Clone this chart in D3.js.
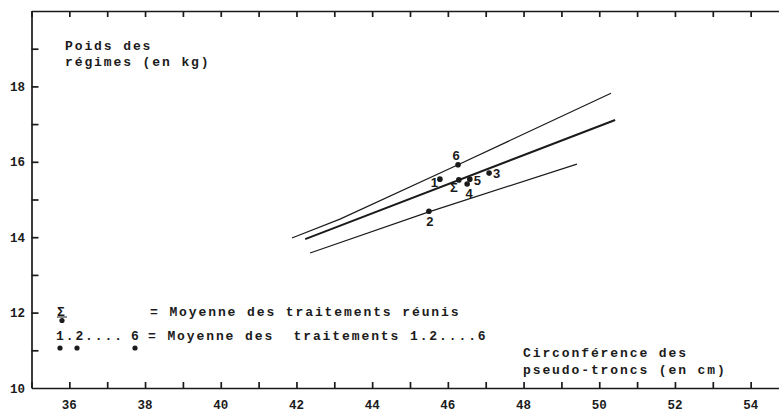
<!DOCTYPE html>
<html lang="fr">
<head>
    <meta charset="UTF-8">
    <title>Poids des régimes / circonférence des pseudo-troncs</title>
    <script src="https://d3js.org/d3.v7.min.js"></script>
    <style>
        html, body { margin: 0; padding: 0; background: #fff; }
        svg { display: block; }
        text { font-family: "Liberation Mono", "DejaVu Sans Mono", monospace; fill: #1b1b1b; }
        .typo { font-size: 13px; font-weight: bold; letter-spacing: 1.9px; white-space: pre; }
        .tick-label { font-size: 12.5px; font-weight: bold; }
        .pt-label { font-family: "Liberation Sans", Arial, sans-serif; font-size: 13px; font-weight: bold; }
    </style>
</head>
<body>
<div id="chart"></div>
<script>
    // Graduations
    const xTickLabels = [36, 38, 40, 42, 44, 46, 48, 50, 52, 54];
    const xMinorTicks = [35, 37, 39, 41, 43, 45, 47, 49, 51, 53];
    const yTickLabels = [10, 12, 14, 16, 18];
    const yMinorTicks = [11, 13, 15, 17, 19];

    // Moyennes par traitement (circonférence en cm, poids en kg)
    const treatments = ["1", "2", "3", "4", "5", "6", "Σ"];
    const circumference = [45.79, 45.50, 47.09, 46.51, 46.58, 46.27, 46.29];
    const weight = [15.54, 14.69, 15.70, 15.41, 15.54, 15.92, 15.52];

    // Droite de régression et limites
    const upperX = [41.88, 43.15, 46.27, 50.31];
    const upperY = [13.98, 14.48, 15.92, 17.82];
    const regX = [42.23, 50.42];
    const regY = [13.95, 17.11];
    const lowerX = [42.36, 45.50, 49.41];
    const lowerY = [13.58, 14.67, 15.94];

    // Position des étiquettes autour des points (px)
    const labelPos = {
        "1": { dx: -2, dy: 8, anchor: "end" },
        "2": { dx: 1, dy: 15, anchor: "middle" },
        "3": { dx: 4, dy: 5, anchor: "start" },
        "4": { dx: 2, dy: 14, anchor: "middle" },
        "5": { dx: 4, dy: 6, anchor: "start" },
        "6": { dx: -2, dy: -5, anchor: "middle" },
        "Σ": { dx: -5, dy: 12, anchor: "middle" }
    };

    const width = 779, height = 414;
    const x = d3.scaleLinear().domain([35, 55]).range([31.5, 788.5]);
    const y = d3.scaleLinear().domain([10, 20]).range([388, 11]);

    const svg = d3.select("#chart").append("svg")
        .attr("width", width)
        .attr("height", height);

    const ink = "#1b1b1b";
    const allX = xTickLabels.concat(xMinorTicks);
    const allY = yTickLabels.concat(yMinorTicks);

    // Axe bas
    svg.append("g")
        .attr("transform", `translate(0,${y(10)})`)
        .call(d3.axisBottom(x).tickValues(allX).tickSizeInner(-6).tickSizeOuter(0).tickFormat(""));
    svg.append("g").selectAll("text")
        .data(xTickLabels)
        .join("text")
        .attr("class", "tick-label")
        .attr("x", d => x(d))
        .attr("y", 409)
        .attr("text-anchor", "middle")
        .text(d => d);

    // Axe haut
    svg.append("g")
        .attr("transform", `translate(0,${y(20)})`)
        .call(d3.axisTop(x).tickValues(allX).tickSizeInner(-6).tickSizeOuter(0).tickFormat(""));

    // Axe gauche
    svg.append("g")
        .attr("transform", `translate(${x(35)},0)`)
        .call(d3.axisLeft(y).tickValues(allY.filter(v => v > 10)).tickSizeInner(-7).tickSizeOuter(0).tickFormat(""));
    svg.append("g").selectAll("text")
        .data(yTickLabels)
        .join("text")
        .attr("class", "tick-label")
        .attr("x", 25)
        .attr("y", d => y(d) + 4.5)
        .attr("text-anchor", "end")
        .text(d => d);

    svg.selectAll(".domain").attr("stroke", ink).attr("stroke-width", 1.7);
    svg.selectAll(".tick line").attr("stroke", ink).attr("stroke-width", 1.7);

    // Titres d'axes
    const yTitle = svg.append("text").attr("class", "typo").attr("x", 65).attr("y", 50);
    yTitle.append("tspan").attr("x", 65).text("Poids des");
    yTitle.append("tspan").attr("x", 65).attr("y", 66).text("régimes (en kg)");

    const xTitle = svg.append("text").attr("class", "typo").attr("x", 523).attr("y", 357);
    xTitle.append("tspan").attr("x", 523).text("Circonférence des");
    xTitle.append("tspan").attr("x", 523).attr("y", 374).text("pseudo-troncs (en cm)");

    // Droites
    const line = d3.line().x(d => x(d[0])).y(d => y(d[1]));
    const curves = [
        { xs: upperX, ys: upperY, w: 1.2 },
        { xs: regX, ys: regY, w: 2 },
        { xs: lowerX, ys: lowerY, w: 1.2 }
    ];
    svg.append("g").selectAll("path")
        .data(curves)
        .join("path")
        .attr("d", c => line(c.xs.map((v, i) => [v, c.ys[i]])))
        .attr("fill", "none")
        .attr("stroke", ink)
        .attr("stroke-width", c => c.w);

    // Points
    const pts = treatments.map((t, i) => ({ name: t, cx: circumference[i], w: weight[i] }));
    svg.append("g").selectAll("circle")
        .data(pts)
        .join("circle")
        .attr("cx", d => x(d.cx))
        .attr("cy", d => y(d.w))
        .attr("r", 2.8)
        .attr("fill", ink);
    svg.append("g").selectAll("text")
        .data(pts)
        .join("text")
        .attr("class", "pt-label")
        .attr("x", d => x(d.cx) + labelPos[d.name].dx)
        .attr("y", d => y(d.w) + labelPos[d.name].dy)
        .attr("text-anchor", d => labelPos[d.name].anchor)
        .text(d => d.name);

    // Légende
    const legend = svg.append("g");
    legend.append("text").attr("class", "typo").attr("x", 57).attr("y", 316).text("Σ");
    legend.append("line").attr("x1", 57).attr("x2", 67).attr("y1", 317).attr("y2", 317)
        .attr("stroke", ink).attr("stroke-width", 1);
    legend.append("circle").attr("cx", 62).attr("cy", 320.5).attr("r", 2.6).attr("fill", ink);
    legend.append("text").attr("class", "typo").attr("x", 150).attr("y", 316)
        .text("= Moyenne des traitements réunis");

    legend.append("text").attr("class", "typo").attr("x", 56).attr("y", 340).text("1.2....");
    legend.append("text").attr("class", "typo").attr("x", 131).attr("y", 340).text("6");
    legend.append("text").attr("class", "typo").attr("x", 148).attr("y", 340)
        .text("= Moyenne des  traitements 1.2....6");
    [60, 77, 135].forEach(cx => {
        legend.append("circle").attr("cx", cx).attr("cy", 348).attr("r", 2.6).attr("fill", ink);
    });
</script>
</body>
</html>
